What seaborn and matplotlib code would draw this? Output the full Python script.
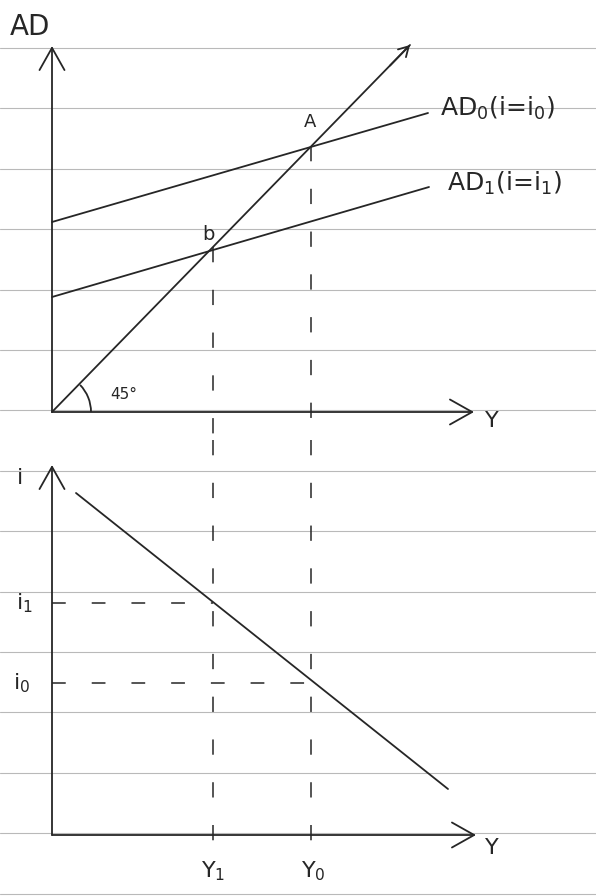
import numpy as np
import pandas as pd
import matplotlib
matplotlib.use("Agg")
import matplotlib.pyplot as plt
import seaborn as sns
from matplotlib.patches import Arc

sns.set_theme(style="white")
plt.rcParams["font.family"] = ["DejaVu Sans"]

# ---- Keynesian cross (upper panel): output Y against aggregate demand AD ----
line45_Y = [0, 358]
line45_AD = [0, 367]
ad0_Y = [0, 376]
ad0_AD = [190, 299]
ad1_Y = [0, 377]
ad1_AD = [115, 225]
Y0 = 259
Y1 = 161

# ---- IS curve (lower panel): output Y against interest rate i ----
is_Y = [24, 396]
is_i = [342, 46]
i0 = 152
i1 = 232

ad_labels = ["AD$_0$(i=i$_0$)", "AD$_1$(i=i$_1$)"]
y_tick_labels = ["Y$_1$", "Y$_0$"]
i_tick_labels = ["i$_1$", "i$_0$"]

INK = "#262626"
RULE = "#b9b9b9"
LW = 1.3

fig = plt.figure(figsize=(5.96, 8.96), dpi=100)
fig.patch.set_facecolor("white")

# ruled notebook paper
bg = fig.add_axes([0, 0, 1, 1])
bg.set_xlim(0, 596)
bg.set_ylim(896, 0)
bg.axis("off")
for r in 48 + 60.4 * np.arange(15):
    bg.axhline(r, color=RULE, lw=0.8, zorder=0)

arrow_big = dict(arrowstyle="->,head_length=0.8,head_width=0.45", lw=LW,
                 color=INK, shrinkA=0, shrinkB=0, mutation_scale=20)
arrow_small = dict(arrowstyle="->,head_length=0.35,head_width=0.2", lw=LW,
                   color=INK, shrinkA=0, shrinkB=0, mutation_scale=20)


def blank(ax):
    ax.set_facecolor("none")
    ax.axis("off")


# ---------------- upper panel ----------------
top = fig.add_axes([0, 456 / 896, 1, 440 / 896])
blank(top)
top.set_xlim(-52, 544)
top.set_ylim(-28, 412)

top.annotate("", xy=(0, 366), xytext=(0, 0), arrowprops=arrow_big)
top.annotate("", xy=(422, 0), xytext=(0, 0), arrowprops=arrow_big)

cross = pd.DataFrame({"Y": line45_Y, "AD": line45_AD})
sns.lineplot(data=cross, x="Y", y="AD", ax=top, color=INK, lw=LW)
top.annotate("", xy=(line45_Y[1], line45_AD[1]),
             xytext=(line45_Y[1] - 20, line45_AD[1] - 20.6), arrowprops=arrow_small)
sns.lineplot(x=ad0_Y, y=ad0_AD, ax=top, color=INK, lw=LW)
sns.lineplot(x=ad1_Y, y=ad1_AD, ax=top, color=INK, lw=LW)

top.add_patch(Arc((0, 0), 78, 78, theta1=0, theta2=44, color=INK, lw=LW))
top.text(72, 18, "45°", fontsize=11, color=INK, ha="center", va="center")

eq_A = np.interp(Y0, line45_Y, line45_AD)
eq_b = np.interp(Y1, line45_Y, line45_AD)
dash = (0, (10, 18))
top.plot([Y0, Y0], [eq_A, -28], color=INK, lw=1.1, ls=dash)
top.plot([Y1, Y1], [eq_b, -28], color=INK, lw=1.1, ls=dash)

top.text(Y0 - 1, eq_A + 24, "A", fontsize=13, color=INK, ha="center", va="center")
top.text(Y1 - 5, eq_b + 12, "b", fontsize=14, color=INK, ha="center", va="center")

top.text(388, 304, ad_labels[0], fontsize=18, color=INK, ha="left", va="center")
top.text(395, 229, ad_labels[1], fontsize=18, color=INK, ha="left", va="center")
top.text(-22, 385, "AD", fontsize=20, color=INK, ha="center", va="center")
top.text(440, -9, "Y", fontsize=16, color=INK, ha="center", va="center")

# ---------------- lower panel ----------------
bot = fig.add_axes([0, 0, 1, 456 / 896])
blank(bot)
bot.set_xlim(-52, 544)
bot.set_ylim(-61, 395)

bot.annotate("", xy=(0, 370), xytext=(0, 0), arrowprops=arrow_big)
bot.annotate("", xy=(424, 0), xytext=(0, 0), arrowprops=arrow_big)

sns.lineplot(x=is_Y, y=is_i, ax=bot, color=INK, lw=LW)

bot.plot([0, Y1], [i1, i1], color=INK, lw=1.1, ls=(0, (9, 17)))
bot.plot([0, Y0], [i0, i0], color=INK, lw=1.1, ls=(0, (9, 17)))
bot.plot([Y1, Y1], [395, -22], color=INK, lw=1.1, ls=dash)
bot.plot([Y0, Y0], [395, -22], color=INK, lw=1.1, ls=dash)

bot.text(-32, 357, "i", fontsize=16, color=INK, ha="center", va="center")
bot.text(-28, i1, i_tick_labels[0], fontsize=16, color=INK, ha="center", va="center")
bot.text(-30, i0, i_tick_labels[1], fontsize=16, color=INK, ha="center", va="center")
bot.text(Y1, -36, y_tick_labels[0], fontsize=16, color=INK, ha="center", va="center")
bot.text(Y0 + 2, -36, y_tick_labels[1], fontsize=16, color=INK, ha="center", va="center")
bot.text(440, -13, "Y", fontsize=16, color=INK, ha="center", va="center")

fig.savefig("out.png", dpi=100, facecolor="white")
